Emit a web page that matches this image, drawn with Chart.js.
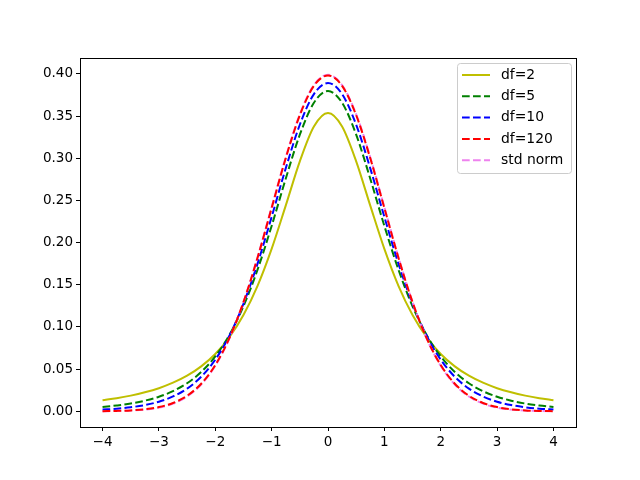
<!DOCTYPE html>
<html>
<head>
<meta charset="utf-8">
<script src="https://cdn.jsdelivr.net/npm/chart.js@4"></script>
<style>
  body { margin: 0; background: #fff; }
  #wrap { width: 640px; height: 480px; }
</style>
</head>
<body>
<div id="wrap"><canvas id="myChart" width="640" height="480"></canvas></div>
<script>
// x positions (every 0.25 from -4 to 4)
const xs = [-4, -3.75, -3.5, -3.25, -3, -2.75, -2.5, -2.25, -2, -1.75, -1.5, -1.25, -1, -0.75, -0.5, -0.25,
  0, 0.25, 0.5, 0.75, 1, 1.25, 1.5, 1.75, 2, 2.25, 2.5, 2.75, 3, 3.25, 3.5, 3.75, 4];

// density values
const df2 = [0.0131, 0.0155, 0.0186, 0.0225, 0.0274, 0.0339, 0.0422, 0.0533, 0.0680, 0.0878, 0.1141, 0.1487, 0.1925, 0.2438, 0.2963, 0.3376,
  0.3536, 0.3376, 0.2963, 0.2438, 0.1925, 0.1487, 0.1141, 0.0878, 0.0680, 0.0533, 0.0422, 0.0339, 0.0274, 0.0225, 0.0186, 0.0155, 0.0131];
const df5 = [0.0051, 0.0069, 0.0092, 0.0126, 0.0173, 0.0239, 0.0333, 0.0466, 0.0651, 0.0905, 0.1245, 0.1679, 0.2197, 0.2757, 0.3279, 0.3657,
  0.3796, 0.3657, 0.3279, 0.2757, 0.2197, 0.1679, 0.1245, 0.0905, 0.0651, 0.0466, 0.0333, 0.0239, 0.0173, 0.0126, 0.0092, 0.0069, 0.0051];
const df10 = [0.0020, 0.0031, 0.0048, 0.0074, 0.0114, 0.0176, 0.0269, 0.0409, 0.0612, 0.0895, 0.1275, 0.1751, 0.2304, 0.2880, 0.3397, 0.3760,
  0.3891, 0.3760, 0.3397, 0.2880, 0.2304, 0.1751, 0.1275, 0.0895, 0.0612, 0.0409, 0.0269, 0.0176, 0.0114, 0.0074, 0.0048, 0.0031, 0.0020];
const df120 = [0.0002, 0.0005, 0.0011, 0.0024, 0.0050, 0.0099, 0.0184, 0.0327, 0.0548, 0.0867, 0.1294, 0.1820, 0.2410, 0.3000, 0.3510, 0.3858,
  0.3981, 0.3858, 0.3510, 0.3000, 0.2410, 0.1820, 0.1294, 0.0867, 0.0548, 0.0327, 0.0184, 0.0099, 0.0050, 0.0024, 0.0011, 0.0005, 0.0002];
const stdNorm = [0.0001, 0.0004, 0.0009, 0.0020, 0.0044, 0.0091, 0.0175, 0.0317, 0.0540, 0.0863, 0.1295, 0.1826, 0.2420, 0.3011, 0.3521, 0.3867,
  0.3989, 0.3867, 0.3521, 0.3011, 0.2420, 0.1826, 0.1295, 0.0863, 0.0540, 0.0317, 0.0175, 0.0091, 0.0044, 0.0020, 0.0009, 0.0004, 0.0001];

const xTicks = [-4, -3, -2, -1, 0, 1, 2, 3, 4];
const yTicks = [0, 0.05, 0.10, 0.15, 0.20, 0.25, 0.30, 0.35, 0.40];

const pts = ys => xs.map((x, i) => ({ x: x, y: ys[i] }));

const dash = [7.7, 3.3];
const mkSet = (label, ys, color, dashed) => ({
  label: label,
  data: pts(ys),
  borderColor: color,
  backgroundColor: color,
  borderWidth: 2,
  borderDash: dashed ? dash : [],
  pointRadius: 0,
  cubicInterpolationMode: 'monotone',
  fill: false
});

// first dataset is drawn on top in Chart.js
const datasets = [
  mkSet('df=120', df120, '#ff0000', true),
  mkSet('std norm', stdNorm, '#ee82ee', true),
  mkSet('df=10', df10, '#0000ff', true),
  mkSet('df=5', df5, '#008000', true),
  mkSet('df=2', df2, '#bfbf00', false)
];
const legendOrder = ['df=2', 'df=5', 'df=10', 'df=120', 'std norm'];

const fmt = v => {
  const s = (Math.abs(v) < 1e-9) ? '0' : String(v);
  return s.replace('-', '\u2212');
};

const frame = {
  id: 'frame',
  afterDatasetsDraw(chart) {
    const { ctx, chartArea: a } = chart;
    ctx.save();
    ctx.strokeStyle = '#000';
    ctx.lineWidth = 1;
    ctx.strokeRect(Math.round(a.left) + 0.5, Math.round(a.top) + 0.5,
      Math.round(a.right - a.left), Math.round(a.bottom - a.top));

    // legend box, upper right
    const bx = 457, by = 63, bw = 114, bh = 110;
    ctx.fillStyle = 'rgba(255,255,255,0.8)';
    ctx.strokeStyle = '#cccccc';
    ctx.beginPath();
    ctx.roundRect(bx + 0.5, by + 0.5, bw, bh, 3);
    ctx.fill();
    ctx.stroke();
    ctx.font = '13.9px "DejaVu Sans"';
    ctx.textBaseline = 'middle';
    legendOrder.forEach((name, i) => {
      const ds = chart.data.datasets.find(d => d.label === name);
      const y = 75 + i * 21.3;
      ctx.strokeStyle = ds.borderColor;
      ctx.lineWidth = 2;
      ctx.setLineDash(ds.borderDash);
      ctx.beginPath();
      ctx.moveTo(462, y);
      ctx.lineTo(490, y);
      ctx.stroke();
      ctx.setLineDash([]);
      ctx.fillStyle = '#000';
      ctx.fillText(name, 501, y);
    });
    ctx.restore();
  }
};

new Chart(document.getElementById('myChart'), {
  type: 'line',
  data: { datasets: datasets },
  options: {
    responsive: false,
    animation: false,
    layout: { padding: { top: 58, right: 64, left: 0, bottom: 0 } },
    plugins: { legend: { display: false }, tooltip: { enabled: false } },
    scales: {
      x: {
        type: 'linear',
        min: -4.4,
        max: 4.4,
        afterBuildTicks: s => { s.ticks = xTicks.map(v => ({ value: v })); },
        afterFit: s => { s.height = 53; },
        grid: { drawOnChartArea: false, color: '#000', tickLength: 4 },
        border: { display: false },
        ticks: { color: '#000', font: { family: 'DejaVu Sans', size: 13.5 }, padding: 3, maxRotation: 0, callback: v => fmt(v) }
      },
      y: {
        type: 'linear',
        min: -0.0186,
        max: 0.4188,
        afterBuildTicks: s => { s.ticks = yTicks.map(v => ({ value: v })); },
        afterFit: s => { s.width = 80; },
        grid: { drawOnChartArea: false, color: '#000', tickLength: 4 },
        border: { display: false },
        ticks: { color: '#000', font: { family: 'DejaVu Sans', size: 13.5 }, padding: 3, callback: v => v.toFixed(2) }
      }
    }
  },
  plugins: [frame]
});
</script>
</body>
</html>
